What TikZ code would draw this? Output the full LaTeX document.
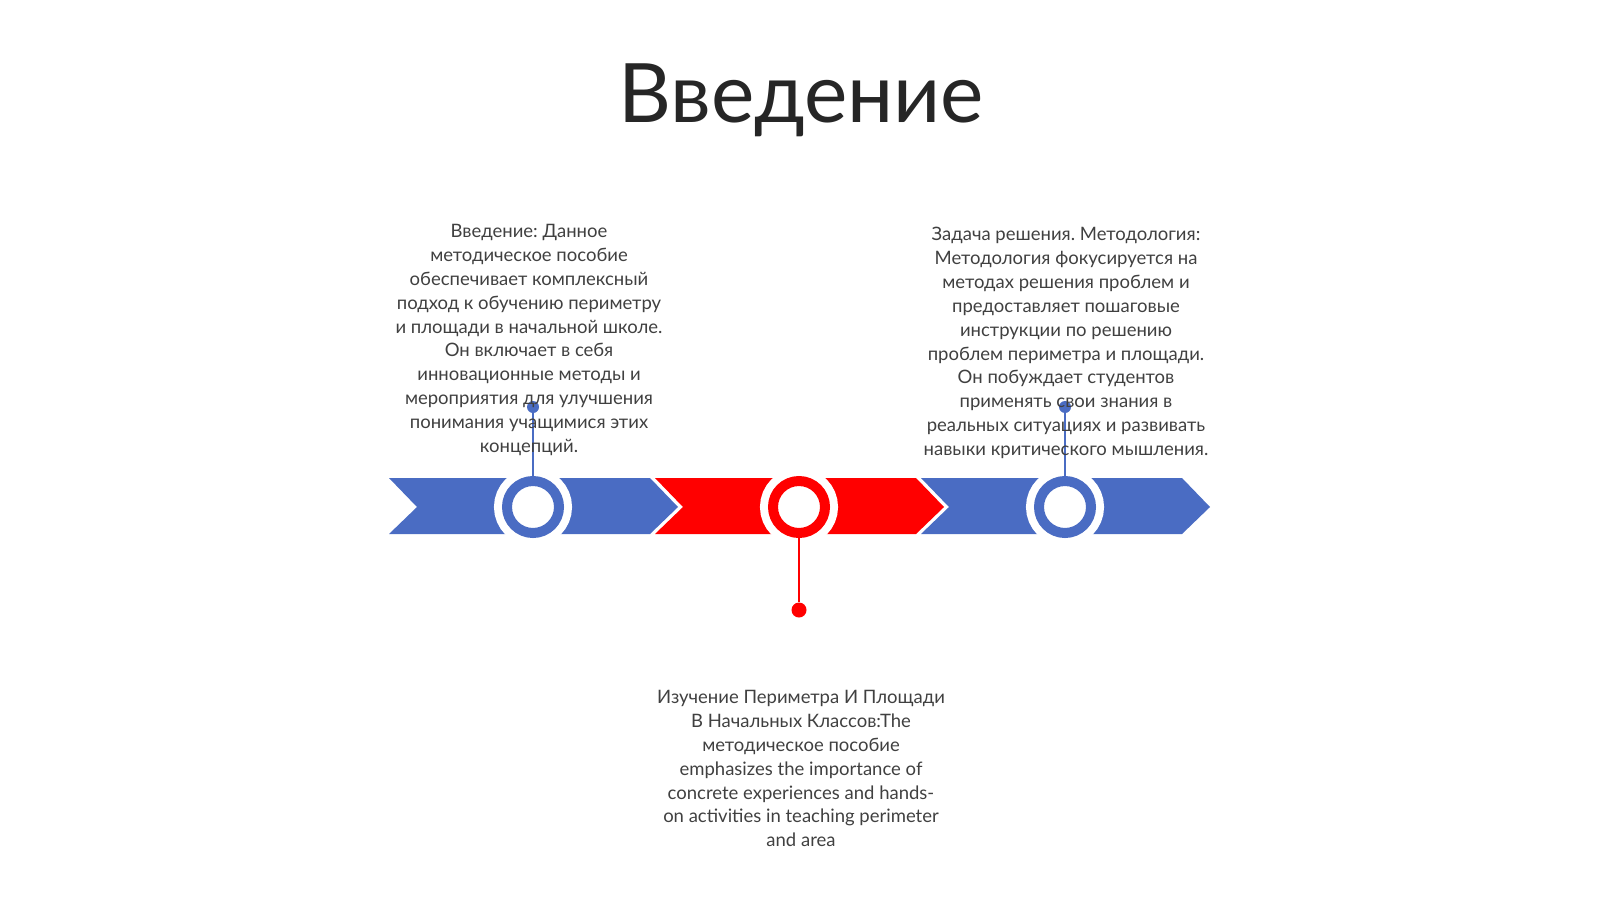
\documentclass[tikz,border=0pt]{standalone}
\usepackage{fontspec}
\setmainfont{Lato}
\frenchspacing
\definecolor{bandblue}{HTML}{4A6CC3}
\definecolor{bandred}{HTML}{FF0000}
\definecolor{textgray}{HTML}{404040}
\definecolor{titlegray}{HTML}{262626}
\tikzset{
  ring/.style={circle, draw=#1, line width=10pt, fill=white, minimum size=52pt,
    inner sep=0pt, preaction={draw=white, line width=26pt}},
  pin/.style={circle, fill=#1, minimum size=12pt, inner sep=0pt},
  stem/.style={draw=#1, line width=2.2pt},
  blurb/.style={align=center, text=textgray, inner sep=0pt, anchor=north,
    font=\fontsize{18.5}{23.9}\selectfont}
}
\begin{document}
\begin{tikzpicture}[x=1pt, y=-1pt]
   \useasboundingbox (0,0) rectangle (1600,899);
   \node [anchor=base, text=titlegray, font=\fontsize{82}{98}\selectfont] (title) at (801,122) {Введение};
   % chevron band
   \foreach \i/\col in {0/bandblue, 1/bandred, 2/bandblue}
      \fill [\col] ({389+266*\i},478) -- ++(261,0) -- ++(28,29) -- ++(-28,27) -- ++(-261,0) -- ++(28,-27) -- cycle;
   \node [ring=bandblue] (c1) at (533,507) {};
   \node [ring=bandred] (c2) at (799,507) {};
   \node [ring=bandblue] (c3) at (1065,507) {};
   \node [pin=bandblue] (p1) at (533,407) {};
   \node [pin=bandred, minimum size=15pt] (p2) at (799,610) {};
   \node [pin=bandblue] (p3) at (1065,407) {};
   \draw [stem=bandblue] (c1) -- (p1);
   \draw [stem=bandred] (c2) -- (p2);
   \draw [stem=bandblue] (c3) -- (p3);
   \node [blurb] (t1) at (529,224) {Введение: Данное\\методическое пособие\\обеспечивает комплексный\\подход к обучению периметру\\и площади в начальной школе.\\Он включает в себя\\инновационные методы и\\мероприятия для улучшения\\понимания учащимися этих\\концепций.};
   \node [blurb] (t3) at (1066,227) {Задача решения. Методология:\\Методология фокусируется на\\методах решения проблем и\\предоставляет пошаговые\\инструкции по решению\\проблем периметра и площади.\\Он побуждает студентов\\применять свои знания в\\реальных ситуациях и развивать\\навыки критического мышления.};
   \node [blurb] (t2) at (801,690) {Изучение Периметра И Площади\\В Начальных Классов:The\\методическое пособие\\emphasizes the importance of\\concrete experiences and hands-\\on activities in teaching perimeter\\and area};
\end{tikzpicture}
\end{document}
